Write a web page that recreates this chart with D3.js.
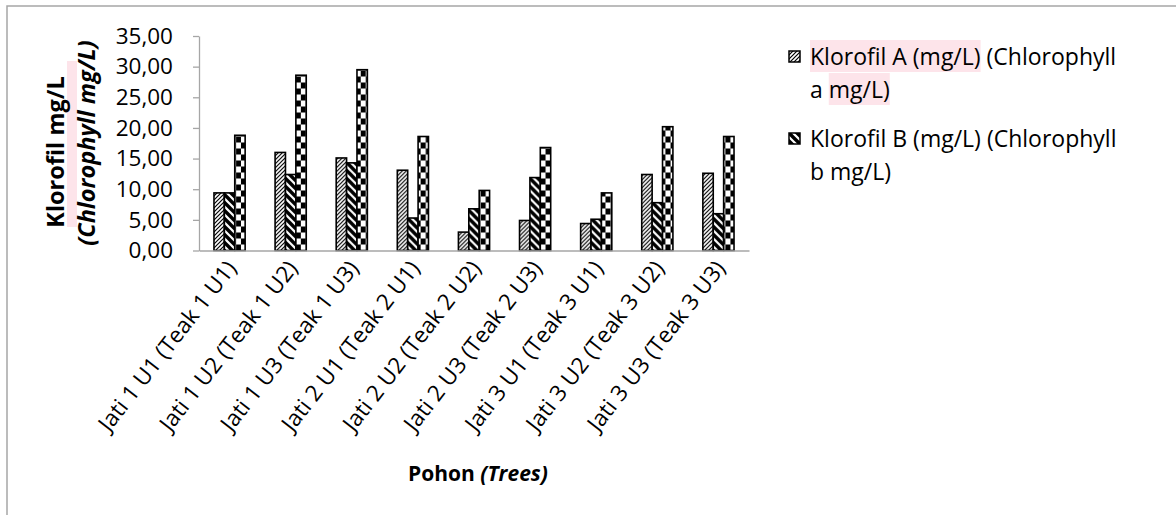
<!DOCTYPE html>
<html><head><meta charset="utf-8">
<script src="https://cdn.jsdelivr.net/npm/d3@7"></script>
<style>
body{margin:0;background:#fff}
svg{display:block}
text{font-family:"Open Sans",sans-serif;fill:#000}
</style></head>
<body><svg id="c" width="1176" height="515"></svg>
<script>
const categories = ["Jati 1 U1 (Teak 1 U1)","Jati 1 U2 (Teak 1 U2)","Jati 1 U3 (Teak 1 U3)",
  "Jati 2 U1 (Teak 2 U1)","Jati 2 U2 (Teak 2 U2)","Jati 2 U3 (Teak 2 U3)",
  "Jati 3 U1 (Teak 3 U1)","Jati 3 U2 (Teak 3 U2)","Jati 3 U3 (Teak 3 U3)"];
const seriesNames = ["Klorofil A", "Klorofil B", "Klorofil Total"];
const klorofilA = [9.4, 16.0, 15.1, 13.1, 3.0, 4.9, 4.4, 12.4, 12.6];
const klorofilB = [9.4, 12.4, 14.3, 5.3, 6.8, 11.9, 5.1, 7.8, 6.0];
const klorofilTotal = [18.8, 28.6, 29.5, 18.6, 9.8, 16.8, 9.4, 20.2, 18.6];
const yTicks = [0, 5, 10, 15, 20, 25, 30, 35];
const legendLines = [
  [["Klorofil A (mg/L)", true], [" (Chlorophyll", false], ["a ", false], ["mg/L)", true]],
  [["Klorofil B (mg/L) (Chlorophyll", false], ["b mg/L)", false]]
];

const svg = d3.select("#c");
const defs = svg.append("defs");
const gray = "#a6a6a6";
const pink = "#fde4ea";

// frame
svg.append("path").attr("d", "M7,515 V6 H1176").attr("fill", "none").attr("stroke", gray).attr("stroke-width", 1.5);

const plot = {left: 199, right: 749, top: 36, bottom: 250.5};
const y = d3.scaleLinear().domain([0, 35]).range([plot.bottom, plot.top]);
const x0 = d3.scaleBand().domain(categories).range([plot.left, plot.right]).paddingInner(0.49).paddingOuter(0.245);
const x1 = d3.scaleBand().domain(seriesNames).range([0, x0.bandwidth()]);

// patterns
const pA = defs.append("pattern").attr("id", "patA").attr("patternUnits", "userSpaceOnUse").attr("width", 4).attr("height", 4);
pA.append("rect").attr("width", 4).attr("height", 4).attr("fill", "#fff");
pA.append("path").attr("d", "M-1,5 L5,-1 M-1,1 L1,-1 M3,5 L5,3").attr("stroke", "#000").attr("stroke-width", 1.2);
const pB = defs.append("pattern").attr("id", "patB").attr("patternUnits", "userSpaceOnUse").attr("width", 8).attr("height", 8);
pB.append("rect").attr("width", 8).attr("height", 8).attr("fill", "#fff");
pB.append("path").attr("d", "M-2,-2 L10,10 M-2,6 L2,10 M6,-2 L10,2").attr("stroke", "#000").attr("stroke-width", 3.4);

const data = categories.map((c, i) => ({cat: c, vals: [klorofilA[i], klorofilB[i], klorofilTotal[i]]}));

const groups = svg.append("g").selectAll("g").data(data).join("g")
  .attr("transform", d => `translate(${x0(d.cat)},0)`);

groups.each(function(d, gi) {
  const g = d3.select(this);
  d.vals.forEach((v, si) => {
    const bx = x1(seriesNames[si]);
    const bw = x1.bandwidth();
    let fill;
    if (si === 0) fill = "url(#patA)";
    else if (si === 1) fill = "url(#patB)";
    else {
      const id = "chk" + gi;
      const s = bw / 2;
      const h = 6;
      const p = defs.append("pattern").attr("id", id).attr("patternUnits", "userSpaceOnUse")
        .attr("x", x0(d.cat) + bx).attr("y", y(0)).attr("width", 2 * s).attr("height", 2 * h);
      p.append("rect").attr("width", 2 * s).attr("height", 2 * h).attr("fill", "#fff");
      p.append("rect").attr("width", s).attr("height", h).attr("fill", "#000");
      p.append("rect").attr("x", s).attr("y", h).attr("width", s).attr("height", h).attr("fill", "#000");
      fill = `url(#${id})`;
    }
    g.append("rect").attr("x", bx).attr("y", y(v)).attr("width", bw).attr("height", y(0) - y(v))
      .attr("fill", fill).attr("stroke", "#000").attr("stroke-width", 1.6);
  });
});

// y axis
const yAxis = svg.append("g").attr("transform", `translate(${plot.left},0)`)
  .call(d3.axisLeft(y).tickValues(yTicks).tickFormat(d => d.toFixed(2).replace(".", ",")).tickSize(6).tickSizeOuter(0).tickPadding(20));
yAxis.select(".domain").attr("stroke", gray).attr("stroke-width", 1.3);
yAxis.selectAll(".tick line").attr("stroke", gray).attr("stroke-width", 1.3);
yAxis.selectAll(".tick text").attr("font-family", '"Open Sans",sans-serif').attr("font-size", 22.5).attr("fill", "#000");

// x axis
const xAxis = svg.append("g").attr("transform", `translate(0,${y(0)})`)
  .call(d3.axisBottom(x0).tickSize(0).tickSizeOuter(0));
xAxis.select(".domain").attr("stroke", gray).attr("stroke-width", 1.5);
xAxis.selectAll(".tick text").attr("font-family", '"Open Sans",sans-serif').attr("font-size", 22.5).attr("fill", "#000")
  .attr("text-anchor", "end").attr("y", 0).attr("dy", 0)
  .attr("transform", "translate(8,18) rotate(-52)");

// axis titles
const yl = svg.append("g").attr("transform", "translate(64,152) rotate(-90)");
yl.append("text").attr("text-anchor", "middle").attr("font-weight", "bold").attr("font-size", 23.5).text("Klorofil mg/L");
const yl2 = svg.append("g").attr("transform", "translate(95,143) rotate(-90)");
yl2.append("text").attr("text-anchor", "middle").attr("font-weight", "bold").attr("font-style", "italic").attr("font-size", 23.5).text("(Chlorophyll mg/L)");
// highlight strip in y title
svg.insert("rect", "g").attr("x", 67).attr("y", 61).attr("width", 10).attr("height", 166).attr("fill", pink);

const xt = svg.append("text").attr("x", 478).attr("y", 481).attr("text-anchor", "middle").attr("font-weight", "bold").attr("font-size", 21);
xt.append("tspan").text("Pohon ");
xt.append("tspan").attr("font-style", "italic").text("(Trees)");

// legend
const legend = svg.append("g");
const lx = 810, lineH = 33;
const itemY = [65, 147];
const markerFill = ["url(#patA)", "url(#patB)"];
legendLines.forEach((parts, li) => {
  const lg = legend.append("g");
  lg.append("rect").attr("x", 789).attr("y", itemY[li] - 14).attr("width", 11).attr("height", 11)
    .attr("fill", markerFill[li]).attr("stroke", "#000").attr("stroke-width", 1.5);
  let cx = lx, row = 0;
  parts.forEach((p, pi) => {
    if ((li === 0 && pi === 2) || (li === 1 && pi === 1)) { row = 1; cx = lx; }
    const t = lg.append("text").attr("x", cx).attr("y", itemY[li] + row * lineH)
      .attr("font-size", 23).attr("xml:space", "preserve").style("white-space", "pre").text(p[0]);
    const bb = t.node().getBBox();
    if (p[1]) {
      lg.insert("rect", "text").attr("x", bb.x).attr("y", bb.y).attr("width", bb.width).attr("height", bb.height).attr("fill", pink);
    }
    cx += t.node().getComputedTextLength();
  });
});
</script></body></html>
